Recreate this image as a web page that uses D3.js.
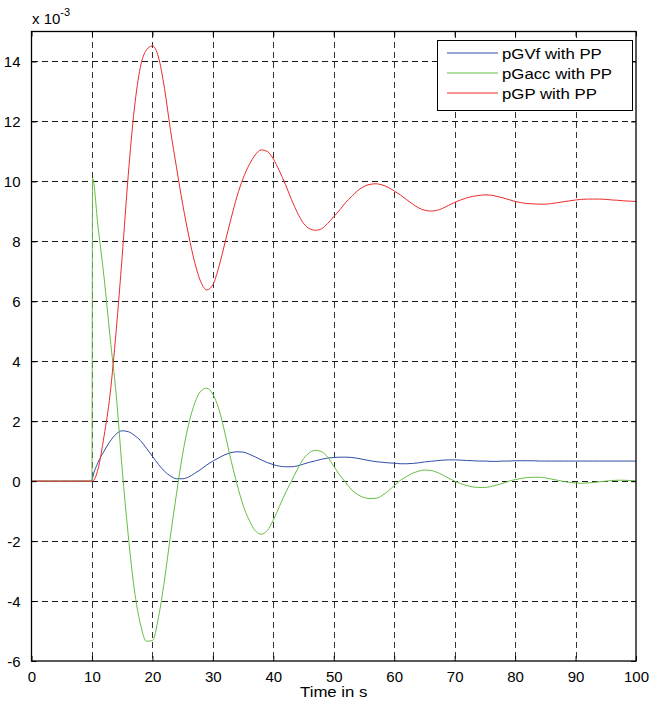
<!DOCTYPE html>
<html>
<head>
<meta charset="utf-8">
<script src="https://cdn.jsdelivr.net/npm/d3@7"></script>
<style>
body { margin: 0; background: #fff; }
svg { display: block; font-family: "Liberation Sans", Arial, sans-serif; }
</style>
</head>
<body>
<svg id="chart" width="652" height="703"></svg>
<script>
// time in s
const time = [0, 5, 9.9, 10, 10.1, 11, 12, 13, 14, 15, 16, 17, 18, 19, 20, 21, 22, 23, 24, 25, 26, 27, 28, 29, 30,
  31, 32, 33, 34, 35, 36, 37, 38, 39, 40, 41, 42, 43, 44, 45, 46, 47, 48, 49, 50,
  51, 52, 53, 54, 55, 56, 57, 58, 59, 60, 61, 62, 63, 64, 65, 66, 67, 68, 69, 70,
  71, 72, 73, 74, 75, 76, 77, 78, 79, 80, 81, 82, 83, 84, 85, 86, 87, 88, 89, 90,
  91, 92, 93, 94, 95, 96, 97, 98, 99, 100];
// values in units of 1e-3
const pGVf = [0, 0, 0, 0, 0.1, 0.62, 1.0, 1.33, 1.57, 1.68, 1.65, 1.53, 1.36, 1.1, 0.83, 0.56, 0.33, 0.17, 0.08, 0.08, 0.14, 0.26, 0.39, 0.54, 0.67,
  0.78, 0.88, 0.95, 0.98, 0.97, 0.9, 0.81, 0.71, 0.62, 0.55, 0.5, 0.48, 0.48, 0.51, 0.57, 0.63, 0.68, 0.73, 0.77, 0.79,
  0.8, 0.8, 0.79, 0.76, 0.72, 0.68, 0.65, 0.63, 0.61, 0.6, 0.58, 0.58, 0.59, 0.61, 0.64, 0.66, 0.68, 0.7, 0.71, 0.71,
  0.7, 0.69, 0.68, 0.67, 0.67, 0.66, 0.66, 0.67, 0.67, 0.68, 0.68, 0.68, 0.68, 0.67, 0.67, 0.67, 0.67, 0.67, 0.67, 0.67,
  0.67, 0.67, 0.67, 0.67, 0.67, 0.67, 0.67, 0.67, 0.67, 0.67];
const pGacc = [0, 0, 0, 0, 10.1, 8.5, 6.8, 4.8, 2.9, 0.4, -1.8, -3.6, -4.75, -5.34, -5.32, -4.55, -3.3, -1.8, -0.4, 0.9, 1.9, 2.6, 3.0, 3.1, 2.9,
  2.4, 1.6, 0.7, -0.1, -0.8, -1.3, -1.65, -1.77, -1.65, -1.3, -0.85, -0.4, 0.0, 0.4, 0.75, 0.95, 1.03, 0.98, 0.8, 0.5,
  0.2, -0.05, -0.3, -0.45, -0.55, -0.58, -0.57, -0.48, -0.33, -0.15, 0.02, 0.15, 0.26, 0.33, 0.37, 0.36, 0.3, 0.21, 0.1, 0.0,
  -0.08, -0.15, -0.19, -0.21, -0.21, -0.18, -0.13, -0.07, 0.0, 0.05, 0.09, 0.12, 0.13, 0.13, 0.11, 0.07, 0.03, -0.01, -0.04, -0.06,
  -0.07, -0.06, -0.04, -0.02, 0.0, 0.02, 0.03, 0.03, 0.02, 0.01];
const pGP = [0, 0, 0, 0, 0, 0.4, 1.5, 2.9, 5.0, 7.5, 10.2, 12.4, 13.8, 14.38, 14.52, 14.15, 13.1, 11.7, 10.45, 9.25, 8.2, 7.3, 6.65, 6.38, 6.55,
  7.15, 7.95, 8.75, 9.5, 10.1, 10.55, 10.88, 11.05, 11.0, 10.75, 10.35, 9.9, 9.4, 8.95, 8.6, 8.42, 8.37, 8.42, 8.6, 8.82,
  9.05, 9.3, 9.5, 9.7, 9.83, 9.9, 9.92, 9.88, 9.8, 9.68, 9.55, 9.4, 9.25, 9.12, 9.04, 9.01, 9.03, 9.1, 9.2, 9.3,
  9.38, 9.45, 9.5, 9.53, 9.55, 9.54, 9.5, 9.45, 9.39, 9.33, 9.29, 9.26, 9.25, 9.24, 9.24, 9.26, 9.29, 9.32, 9.35, 9.38,
  9.4, 9.41, 9.41, 9.41, 9.4, 9.38, 9.37, 9.35, 9.34, 9.33];
const seriesNames = ["pGVf with PP", "pGacc with PP", "pGP with PP"];
const seriesColors = ["#2f4ea6", "#66bd45", "#ee2a2a"];
const xTicks = [0, 10, 20, 30, 40, 50, 60, 70, 80, 90, 100];
const yTicks = [-6, -4, -2, 0, 2, 4, 6, 8, 10, 12, 14];

const svg = d3.select("#chart");
const L = 31.5, R = 636, T = 31.5, B = 661;
const x = d3.scaleLinear().domain([0, 100]).range([L, R]);
const y = d3.scaleLinear().domain([-6, 15]).range([B, T]);

// grid
const grid = svg.append("g").attr("stroke", "#000").attr("stroke-width", 1)
  .attr("stroke-dasharray", "6,4").attr("shape-rendering", "crispEdges");
grid.selectAll("line.vx").data(xTicks.filter(d => d > 0 && d < 100)).join("line")
  .attr("x1", d => Math.round(x(d)) + 0.5).attr("x2", d => Math.round(x(d)) + 0.5)
  .attr("y1", T).attr("y2", B).attr("stroke-opacity", 0.8);
grid.selectAll("line.hy").data(yTicks.filter(d => d > -6)).join("line")
  .attr("y1", d => Math.round(y(d)) + 0.5).attr("y2", d => Math.round(y(d)) + 0.5)
  .attr("x1", L).attr("x2", R).attr("stroke-opacity", 0.9);

// series
const data = [pGVf, pGacc, pGP];
const line = d3.line().x(d => x(d[0])).y(d => y(d[1])).curve(d3.curveMonotoneX);
data.forEach((vals, i) => {
  svg.append("path").datum(time.map((t, j) => [t, vals[j]]))
    .attr("d", line).attr("fill", "none")
    .attr("stroke", seriesColors[i]).attr("stroke-width", 1);
});

// axes (inward ticks on all four sides)
const tickLen = -5;
const fmt = d => String(d);
const gx = svg.append("g").attr("transform", `translate(0,${B})`)
  .call(d3.axisBottom(x).tickValues(xTicks).tickSize(tickLen).tickPadding(10).tickFormat(fmt));
const gxt = svg.append("g").attr("transform", `translate(0,${T})`)
  .call(d3.axisTop(x).tickValues(xTicks).tickSize(tickLen).tickFormat(""));
const gy = svg.append("g").attr("transform", `translate(${L},0)`)
  .call(d3.axisLeft(y).tickValues(yTicks).tickSize(tickLen).tickPadding(11).tickFormat(fmt));
const gyr = svg.append("g").attr("transform", `translate(${R},0)`)
  .call(d3.axisRight(y).tickValues(yTicks).tickSize(tickLen).tickFormat(""));
[gx, gxt, gy, gyr].forEach(g => {
  g.select(".domain").remove();
  g.selectAll("line").attr("stroke", "#000");
  g.selectAll("text").attr("font-size", 15).attr("fill", "#000").attr("font-family", "Liberation Sans, Arial, sans-serif");
});
gy.selectAll("text").attr("dy", "0.36em");
gx.selectAll("text").attr("dy", "0.72em");

svg.append("rect").attr("x", L).attr("y", T).attr("width", R - L).attr("height", B - T)
  .attr("fill", "none").attr("stroke", "#000").attr("stroke-width", 1.3);

// exponent label
const exp = svg.append("text").attr("x", 32).attr("y", 24).attr("font-size", 15)
  .attr("fill", "#000");
exp.append("tspan").text("x 10");
exp.append("tspan").attr("font-size", 11).attr("dy", -8).text("-3");

// x label
svg.append("text").attr("transform", `translate(${(L + R) / 2},697) scale(1.12,1)`)
  .attr("text-anchor", "middle").attr("font-size", 15).attr("fill", "#000").text("Time in s");

// legend
const lg = svg.append("g");
lg.append("rect").attr("x", 437.5).attr("y", 40.5).attr("width", 195).attr("height", 70)
  .attr("fill", "#fff").attr("stroke", "#000").attr("stroke-width", 1);
seriesNames.forEach((name, i) => {
  const yy = 53 + i * 20;
  lg.append("line").attr("x1", 447).attr("x2", 498).attr("y1", yy).attr("y2", yy)
    .attr("stroke", seriesColors[i]).attr("stroke-width", 1);
  lg.append("text").attr("transform", `translate(502,${yy + 5.5}) scale(1.12,1)`)
    .attr("font-size", 15).attr("fill", "#000").text(name);
});
</script>
</body>
</html>
